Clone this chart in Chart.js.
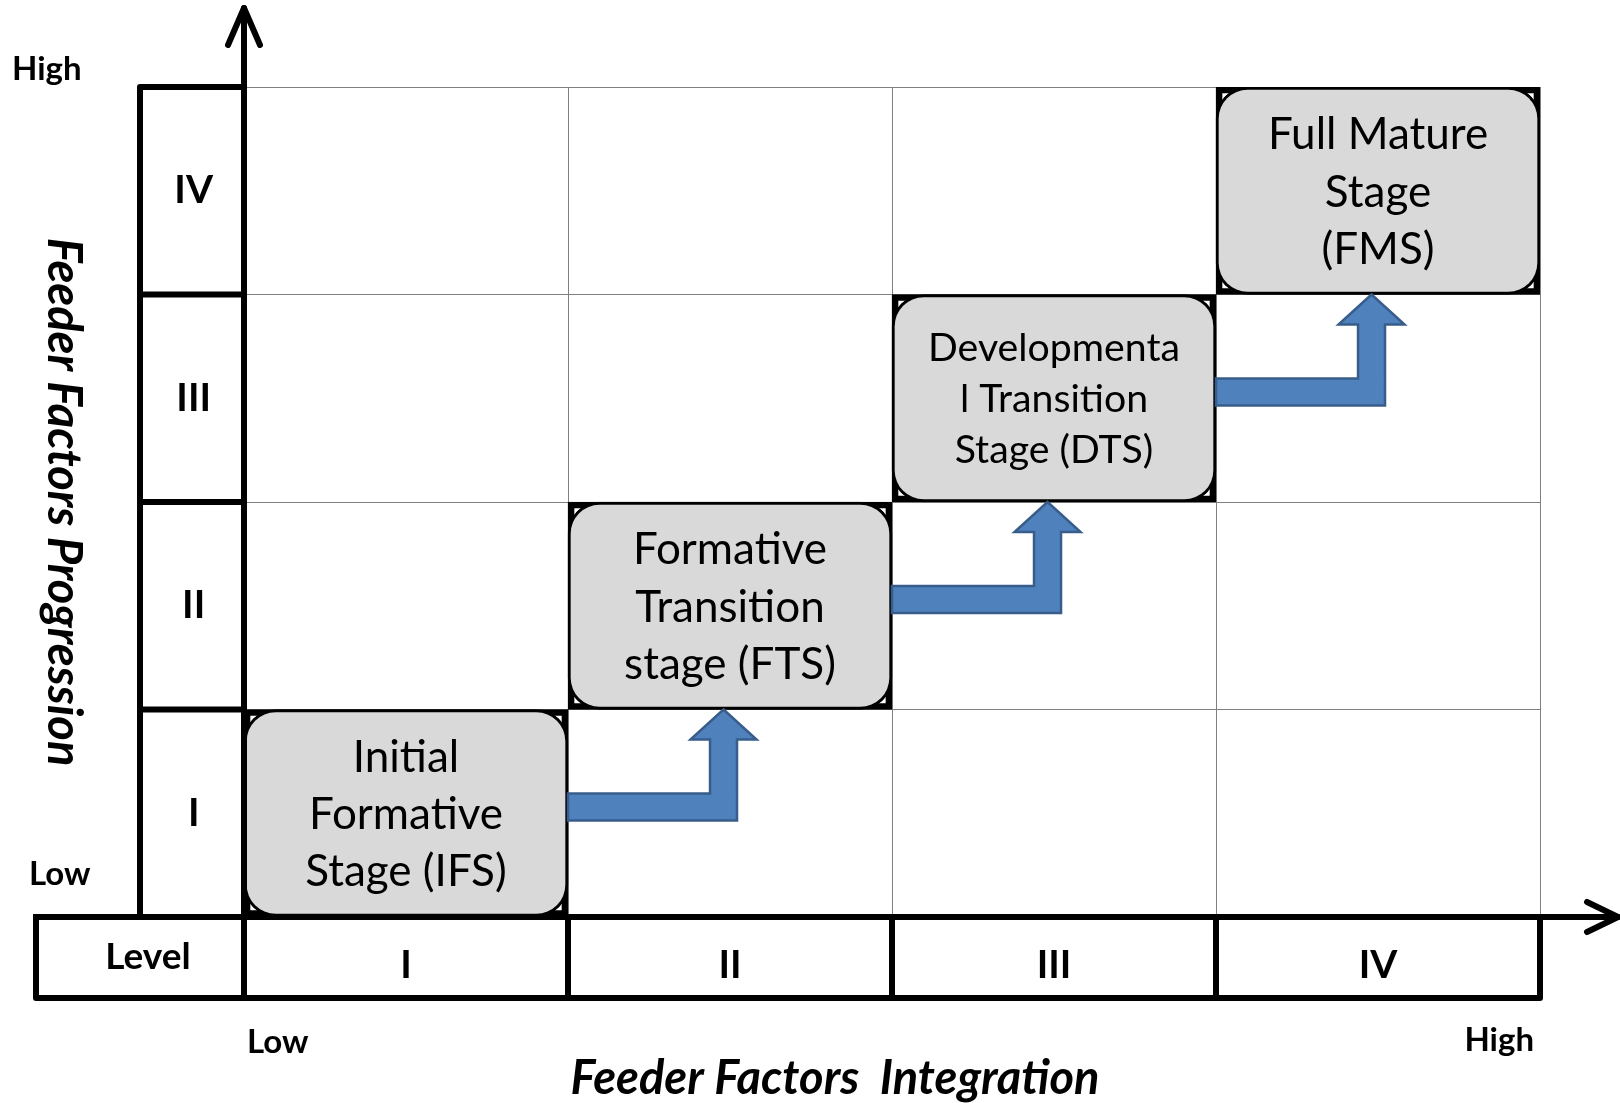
<!DOCTYPE html>
<html>
<head>
<meta charset="utf-8">
<script src="https://cdn.jsdelivr.net/npm/chart.js@4.4.1/dist/chart.umd.min.js"></script>
<style>
  html, body { margin: 0; padding: 0; background: #fff; }
  canvas { display: block; }
</style>
</head>
<body>
<canvas id="stages-diagram" width="1620" height="1103"></canvas>
<script>
// levels of both dimensions
const levels = ["I", "II", "III", "IV"];

// each stage: integration level (x) and progression range (y)
const stageIntegration = ["I", "II", "III", "IV"];
const stageFrom = [0, 1, 2, 3];
const stageTo = [1, 2, 3, 4];
const stageNames = [
  ["Initial", "Formative", "Stage (IFS)"],
  ["Formative", "Transition", "stage (FTS)"],
  ["Developmenta", "l Transition", "Stage (DTS)"],
  ["Full Mature", "Stage", "(FMS)"],
];

// stage i leads to stage i + 1
const transitions = [
  [0, 1],
  [1, 2],
  [2, 3],
];

const rangeLabels = ["Low", "High"];
const levelHeader = "Level";
const xTitle = "Feeder Factors  Integration";
const yTitle = "Feeder Factors Progression";

const stageData = stageFrom.map((v, i) => [v, stageTo[i]]);

Chart.defaults.font.family = "Lato";
Chart.defaults.color = "#000";

function line(ctx, pts) {
  ctx.beginPath();
  ctx.moveTo(pts[0][0], pts[0][1]);
  for (let i = 1; i < pts.length; i++) ctx.lineTo(pts[i][0], pts[i][1]);
  ctx.stroke();
}

const diagramPlugin = {
  id: "diagram",
  afterDatasetsDraw(chart) {
    const ctx = chart.ctx;
    const area = chart.chartArea;
    const xs = chart.scales.x;
    const ys = chart.scales.y;
    const lv = chart.scales.yLevel;
    const colEdge = (v) => xs.getPixelForValue(v);
    const tableLeft = lv.left - 104;
    const tableBottom = xs.bottom;

    ctx.save();
    ctx.strokeStyle = "#000";
    ctx.lineJoin = "round";
    ctx.lineWidth = 6;

    // left level column
    ctx.lineCap = "square";
    line(ctx, [[lv.left, area.bottom], [lv.left, area.top], [area.left, area.top]]);
    for (let v = 1; v < levels.length; v++) {
      const py = ys.getPixelForValue(v);
      line(ctx, [[lv.left, py], [area.left, py]]);
    }

    // bottom level table
    line(ctx, [[tableLeft, area.bottom], [tableLeft, tableBottom], [area.right, tableBottom], [area.right, area.bottom]]);
    for (let i = 0; i < levels.length - 1; i++) {
      const px = colEdge(i + 0.5);
      line(ctx, [[px, area.bottom], [px, tableBottom]]);
    }

    // axes with open arrow heads
    ctx.lineCap = "round";
    line(ctx, [[area.left, tableBottom], [area.left, 8]]);
    line(ctx, [[area.left - 16, 45], [area.left, 8], [area.left + 16, 45]]);
    line(ctx, [[tableLeft, area.bottom], [area.right + 78, area.bottom]]);
    line(ctx, [[area.right + 47, area.bottom - 15], [area.right + 78, area.bottom], [area.right + 47, area.bottom + 15]]);

    // bent-up arrows between stages
    const t = 27, hw = 66, hh = 30;
    transitions.forEach(([a, b]) => {
      const x0 = colEdge(a + 0.5);
      const sx = colEdge(b - 0.02);
      const yc = ys.getPixelForValue(stageFrom[a] + 0.53);
      const tip = ys.getPixelForValue(stageFrom[b]);
      const base = tip + hh;
      ctx.beginPath();
      ctx.moveTo(x0, yc - t / 2);
      ctx.lineTo(sx - t / 2, yc - t / 2);
      ctx.lineTo(sx - t / 2, base);
      ctx.lineTo(sx - hw / 2, base);
      ctx.lineTo(sx, tip);
      ctx.lineTo(sx + hw / 2, base);
      ctx.lineTo(sx + t / 2, base);
      ctx.lineTo(sx + t / 2, yc + t / 2);
      ctx.lineTo(x0, yc + t / 2);
      ctx.closePath();
      ctx.fillStyle = "#4f81bd";
      ctx.fill();
      ctx.lineWidth = 2.5;
      ctx.lineJoin = "miter";
      ctx.strokeStyle = "#385d8a";
      ctx.stroke();
    });

    // stage names
    ctx.fillStyle = "#000";
    ctx.textAlign = "center";
    ctx.textBaseline = "alphabetic";
    stageNames.forEach((lines, i) => {
      const col = levels.indexOf(stageIntegration[i]);
      const cx = (colEdge(col - 0.5) + colEdge(col + 0.5)) / 2;
      const cy = (ys.getPixelForValue(stageFrom[i]) + ys.getPixelForValue(stageTo[i])) / 2;
      let size = 44;
      ctx.font = size + "px Lato";
      const widest = Math.max(...lines.map((s) => ctx.measureText(s).width));
      if (widest > 256) size = size * 252 / widest;
      ctx.font = size + "px Lato";
      const lh = size * 1.3;
      lines.forEach((s, k) => {
        ctx.fillText(s, cx, cy + (k - (lines.length - 1) / 2) * lh + size * 0.36);
      });
    });

    // level header and low / high marks
    ctx.font = "bold 37px Lato";
    ctx.fillText(levelHeader, (tableLeft + area.left) / 2 + 8, tableBottom - 29);
    ctx.font = "bold 33px Lato";
    ctx.textAlign = "left";
    ctx.fillText(rangeLabels[1], 12, 80);
    ctx.fillText(rangeLabels[0], 29, area.bottom - 32);
    ctx.fillText(rangeLabels[0], area.left + 3, tableBottom + 55);
    ctx.textAlign = "right";
    ctx.fillText(rangeLabels[1], area.right - 6, tableBottom + 53);

    // axis titles
    ctx.textAlign = "center";
    ctx.font = "italic bold 47px Lato";
    ctx.fillText(xTitle, 835, tableBottom + 96);
    ctx.translate(64, (area.top + area.bottom) / 2);
    ctx.rotate(Math.PI / 2);
    ctx.fillText(yTitle, 0, 16);
    ctx.restore();
  },
};

new Chart(document.getElementById("stages-diagram"), {
  type: "bar",
  data: {
    labels: levels,
    datasets: [
      {
        label: "Stages",
        data: stageData,
        backgroundColor: "#d9d9d9",
        borderColor: "#000",
        borderWidth: 3,
        borderRadius: 32,
        borderSkipped: false,
        grouped: false,
        barPercentage: 1,
        categoryPercentage: 1,
        order: 1,
      },
      {
        label: "Cells",
        data: stageData,
        backgroundColor: "rgba(0,0,0,0)",
        borderColor: "#000",
        borderWidth: 6,
        borderSkipped: false,
        grouped: false,
        barPercentage: 1,
        categoryPercentage: 1,
        order: 2,
      },
    ],
  },
  options: {
    responsive: false,
    animation: false,
    layout: { padding: { left: 140, top: 87, right: 80, bottom: 105 } },
    plugins: { legend: { display: false }, tooltip: { enabled: false } },
    scales: {
      x: {
        offset: true,
        grid: { offset: true, color: "#808080", lineWidth: 1, drawTicks: false },
        border: { display: false },
        ticks: { font: { size: 39, weight: "bold" }, padding: 25, maxRotation: 0 },
        afterFit: (s) => { s.height = 81; },
      },
      y: {
        type: "linear",
        min: 0,
        max: 4,
        position: "left",
        weight: 0,
        grid: { color: "#808080", lineWidth: 1, drawTicks: false },
        border: { display: false },
        ticks: { display: false, stepSize: 1 },
        afterFit: (s) => { s.width = 0; },
      },
      yLevel: {
        type: "category",
        labels: [...levels].reverse(),
        offset: true,
        position: "left",
        weight: 1,
        grid: { display: false, drawTicks: false },
        border: { display: false },
        ticks: { font: { size: 39, weight: "bold" }, padding: 31, crossAlign: "center" },
        afterFit: (s) => { s.width = 104; },
      },
    },
  },
  plugins: [diagramPlugin],
});
</script>
</body>
</html>
